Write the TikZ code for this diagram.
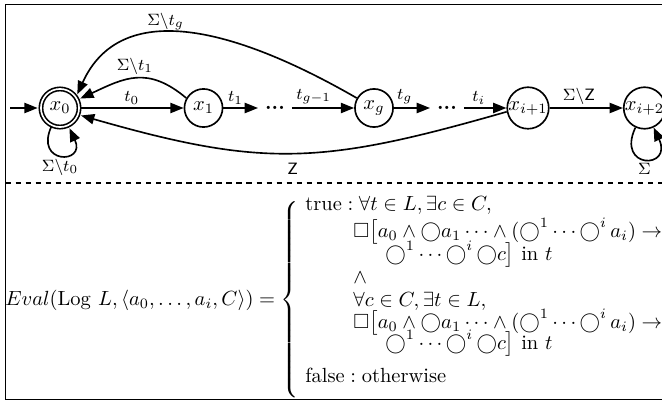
\documentclass[tikz,border=0pt]{standalone}
\usepackage{amsmath,amssymb}
\usetikzlibrary{arrows.meta,positioning}
\newcommand{\nxt}{\mathord{\bigcirc}}

\begin{document}
\begin{tikzpicture}[x=0.488pt, y=-0.488pt,
  st/.style={circle, draw, thick, minimum size=18.6pt, inner sep=0pt},
  acc/.style={st, double, double distance=0.8pt},
  arr/.style={-{Triangle[length=6.5pt,width=5pt]}, thick},
  lbl/.style={font=\footnotesize, inner sep=1.5pt},
  dotsnode/.style={inner sep=3.3pt, font=\bfseries},
  caseline/.style={anchor=base west, inner sep=0pt}]
  \useasboundingbox (0,0) rectangle (662,403);
  % Frame
  \draw[line width=0.5pt] (5.5,4.3) rectangle (700,399.3);
  \draw[line width=0.5pt, dash pattern=on 2.6pt off 2.3pt] (5.5,183) -- (700,183);
  % States
  \node[acc] (x0) at (60,108) {$x_0$};
  \node[st] (x1) at (203.5,108) {$x_1$};
  \node[dotsnode] (d1) at (275,108) {...};
  \node[st] (xg) at (374,108) {$x_g$};
  \node[dotsnode] (d2) at (447,108) {...};
  \node[st] (xi1) at (528,108) {$x_{i+1}$};
  \node[st] (xi2) at (644.5,108) {$x_{i+2}$};
  \coordinate (start) at (10,108);
  % Transitions
  \draw[arr, shorten >=1.2pt] (start) -- (x0);
  \draw[arr] (x0) -- node[lbl, above] {$t_0$} (x1);
  \draw[arr] (x1) -- node[lbl, above, pos=0.35] {$t_1$} (d1);
  \draw[arr] (d1) -- node[lbl, above, pos=0.35] {$t_{g-1}$} (xg);
  \draw[arr] (xg) -- node[lbl, above, pos=0.3] {$t_g$} (d2);
  \draw[arr] (d2) -- node[lbl, above, pos=0.35] {$t_i$} (xi1);
  \draw[arr] (xi1) -- node[lbl, above, pos=0.4] {$\Sigma\backslash\textsf{Z}$} (xi2);
  \draw[arr, shorten >=1.2pt] (xg.150) .. controls (230,25) and (120,0) .. node[lbl, above, pos=0.57] {$\Sigma\backslash t_g$} (x0.35);
  \draw[arr, shorten >=1.2pt] (x1.150) to[out=140, in=25, looseness=1.2] node[lbl, above] {$\Sigma\backslash t_1$} (x0.25);
  \draw[arr, shorten >=1.2pt] (xi1.190) to[out=196, in=-16, looseness=1.15] node[lbl, below=3pt] {\textsf{Z}} (x0.-20);
  \path (x0) edge[loop below, out=-115, in=-65, looseness=6.5, arr, shorten >=1.2pt] node[lbl, below] {$\Sigma\backslash t_0$} (x0);
  \path (xi2) edge[loop below, out=-115, in=-65, looseness=6.5, arr] node[lbl, below] {$\Sigma$} (xi2);
  % Evaluation
  \node[anchor=west, inner sep=0pt] (eval) at (5,300) {$Eval(\mathrm{Log}\ L, \langle a_0, \ldots, a_i, C\rangle) = \left\{\rule[-46pt]{0pt}{97pt}\right.$};
  \node[caseline] (c1) at (305,210) {$\text{true} : \forall t \in L, \exists c \in C,$};
  \node[caseline] (c2) at (353,237) {$\Box\bigl[a_0 \wedge \nxt a_1 \cdots \wedge (\nxt^1\cdots\nxt^i\, a_i) \rightarrow$};
  \node[caseline] (c3) at (385,260) {$\nxt^1\cdots\nxt^i\,\nxt c\bigr] \text{ in } t$};
  \node[caseline] (c4) at (353,283) {$\wedge$};
  \node[caseline] (c5) at (353,306) {$\forall c \in C, \exists t \in L,$};
  \node[caseline] (c6) at (353,328) {$\Box\bigl[a_0 \wedge \nxt a_1 \cdots \wedge (\nxt^1\cdots\nxt^i\, a_i) \rightarrow$};
  \node[caseline] (c7) at (385,349) {$\nxt^1\cdots\nxt^i\,\nxt c\bigr] \text{ in } t$};
  \node[caseline] (c8) at (305,382) {$\text{false} : \text{otherwise}$};
\end{tikzpicture}
\end{document}
